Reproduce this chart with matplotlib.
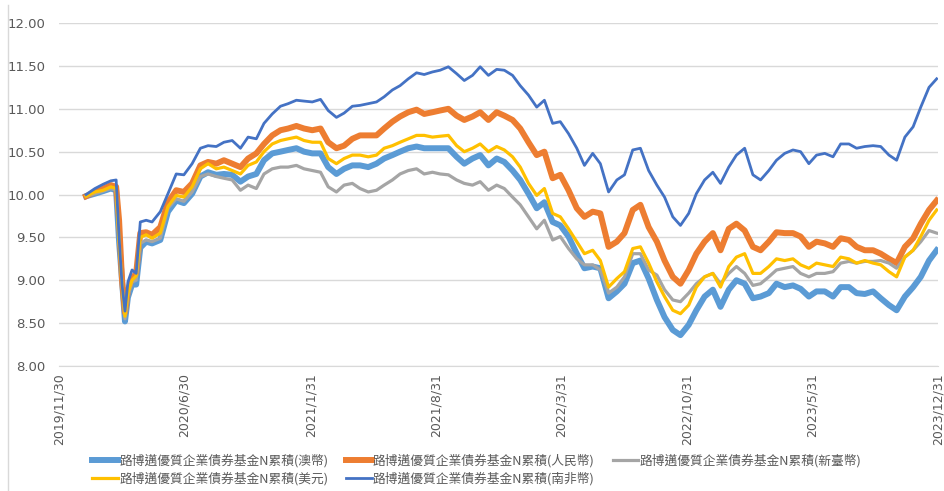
import matplotlib
matplotlib.use('Agg')
import matplotlib.pyplot as plt
from matplotlib.lines import Line2D
import pandas as pd

# sampled NAV dates (roughly every two weeks, denser round the 2020 crash)
dates = [
    '2020-01-15', '2020-01-30', '2020-02-13', '2020-02-26', '2020-03-06', '2020-03-11',
    '2020-03-16', '2020-03-21', '2020-03-26', '2020-04-02', '2020-04-09', '2020-04-16',
    '2020-04-26', '2020-05-06', '2020-05-20', '2020-06-02', '2020-06-16', '2020-06-29',
    '2020-07-13', '2020-07-27', '2020-08-09', '2020-08-23', '2020-09-05', '2020-09-19',
    '2020-10-03', '2020-10-16', '2020-10-30',
    '2020-11-12', '2020-11-26', '2020-12-10', '2020-12-23', '2021-01-06', '2021-01-19',
    '2021-02-02', '2021-02-16', '2021-03-01', '2021-03-15', '2021-03-28', '2021-04-11',
    '2021-04-24', '2021-05-08', '2021-05-22', '2021-06-04', '2021-06-18', '2021-07-01',
    '2021-07-15', '2021-07-29', '2021-08-11',
    '2021-08-25', '2021-09-07', '2021-09-21', '2021-10-05', '2021-10-18', '2021-11-01',
    '2021-11-14', '2021-11-28', '2021-12-12', '2021-12-25', '2022-01-08', '2022-01-21',
    '2022-02-04', '2022-02-18', '2022-03-03', '2022-03-17', '2022-03-30', '2022-04-13',
    '2022-04-27', '2022-05-10', '2022-05-24',
    '2022-06-06', '2022-06-20', '2022-07-04', '2022-07-17', '2022-07-31', '2022-08-13',
    '2022-08-27', '2022-09-10', '2022-09-23', '2022-10-07', '2022-10-20', '2022-11-03',
    '2022-11-16', '2022-11-30', '2022-12-14', '2022-12-27', '2023-01-10', '2023-01-23',
    '2023-02-06', '2023-02-20', '2023-03-05',
    '2023-03-19', '2023-04-01', '2023-04-15', '2023-04-29', '2023-05-12', '2023-05-26',
    '2023-06-08', '2023-06-22', '2023-07-06', '2023-07-19', '2023-08-02', '2023-08-15',
    '2023-08-29', '2023-09-12', '2023-09-25', '2023-10-09', '2023-10-22', '2023-11-05',
    '2023-11-19', '2023-12-02', '2023-12-16', '2023-12-29',
]

aud = [9.98, 10.01, 10.04, 10.07, 10.05, 9.45, 9.00, 8.52, 8.80, 8.95, 8.95, 9.38, 9.45, 9.43,
       9.47, 9.80, 9.93, 9.90, 10.01, 10.21, 10.26, 10.23, 10.24, 10.23, 10.15, 10.21, 10.24,
       10.40, 10.48, 10.50, 10.52, 10.54, 10.50, 10.48, 10.48, 10.32, 10.24, 10.30, 10.34,
       10.34, 10.32, 10.36, 10.42, 10.46, 10.50, 10.54, 10.56, 10.54,
       10.54, 10.54, 10.54, 10.44, 10.36, 10.42, 10.46, 10.34, 10.42, 10.38, 10.28, 10.17,
       10.01, 9.84, 9.91, 9.68, 9.64, 9.51, 9.31, 9.14, 9.16,
       9.14, 8.79, 8.87, 8.96, 9.20, 9.23, 9.02, 8.77, 8.57, 8.42, 8.36, 8.48, 8.65, 8.81,
       8.89, 8.69, 8.89, 9.00, 8.96, 8.79, 8.81,
       8.85, 8.96, 8.92, 8.94, 8.90, 8.81, 8.87, 8.87, 8.81, 8.92, 8.92, 8.85, 8.84, 8.87,
       8.79, 8.71, 8.65, 8.81, 8.92, 9.04, 9.23, 9.35]

cny = [9.98, 10.03, 10.07, 10.11, 10.09, 9.70, 9.00, 8.62, 8.88, 9.02, 9.08, 9.55, 9.56, 9.53,
       9.62, 9.91, 10.05, 10.03, 10.13, 10.34, 10.38, 10.36, 10.40, 10.36, 10.32, 10.42, 10.48,
       10.59, 10.69, 10.75, 10.77, 10.80, 10.77, 10.75, 10.77, 10.61, 10.54, 10.57, 10.65,
       10.69, 10.69, 10.69, 10.77, 10.85, 10.91, 10.96, 10.99, 10.94,
       10.96, 10.98, 11.00, 10.92, 10.87, 10.91, 10.96, 10.87, 10.96, 10.92, 10.87, 10.77,
       10.61, 10.46, 10.50, 10.19, 10.23, 10.05, 9.84, 9.74, 9.80,
       9.78, 9.39, 9.45, 9.55, 9.82, 9.88, 9.62, 9.45, 9.23, 9.04, 8.96, 9.12, 9.31, 9.45,
       9.55, 9.35, 9.60, 9.66, 9.58, 9.39, 9.35,
       9.45, 9.56, 9.55, 9.55, 9.51, 9.39, 9.45, 9.43, 9.39, 9.49, 9.47, 9.39, 9.35, 9.35,
       9.31, 9.25, 9.20, 9.39, 9.49, 9.66, 9.82, 9.93]

twd = [9.98, 10.01, 10.04, 10.07, 10.05, 9.45, 8.95, 8.55, 8.82, 8.98, 9.00, 9.43, 9.47, 9.45,
       9.49, 9.84, 9.95, 9.92, 10.03, 10.21, 10.24, 10.21, 10.19, 10.17, 10.05, 10.11, 10.07,
       10.24, 10.30, 10.32, 10.32, 10.34, 10.30, 10.28, 10.26, 10.09, 10.03, 10.11, 10.13,
       10.07, 10.03, 10.05, 10.11, 10.17, 10.24, 10.28, 10.30, 10.24,
       10.26, 10.24, 10.23, 10.17, 10.13, 10.11, 10.15, 10.05, 10.11, 10.07, 9.97, 9.88,
       9.74, 9.60, 9.70, 9.47, 9.51, 9.37, 9.25, 9.18, 9.18,
       9.12, 8.85, 8.92, 9.04, 9.31, 9.31, 9.12, 9.06, 8.89, 8.77, 8.75, 8.85, 8.96, 9.04,
       9.08, 8.96, 9.08, 9.16, 9.08, 8.94, 8.96,
       9.04, 9.12, 9.14, 9.16, 9.08, 9.04, 9.08, 9.08, 9.10, 9.20, 9.22, 9.20, 9.22, 9.22,
       9.23, 9.20, 9.14, 9.27, 9.35, 9.45, 9.58, 9.55]

usd = [9.98, 10.03, 10.05, 10.09, 10.07, 9.45, 8.95, 8.58, 8.85, 9.00, 9.05, 9.50, 9.53, 9.49,
       9.55, 9.86, 9.99, 9.97, 10.09, 10.30, 10.36, 10.30, 10.32, 10.28, 10.24, 10.34, 10.38,
       10.50, 10.59, 10.63, 10.65, 10.67, 10.63, 10.61, 10.61, 10.42, 10.36, 10.42, 10.46,
       10.46, 10.44, 10.46, 10.54, 10.57, 10.61, 10.65, 10.69, 10.69,
       10.67, 10.68, 10.69, 10.57, 10.50, 10.54, 10.59, 10.50, 10.56, 10.52, 10.44, 10.32,
       10.13, 9.99, 10.07, 9.78, 9.74, 9.60, 9.45, 9.31, 9.35,
       9.23, 8.92, 9.02, 9.10, 9.37, 9.39, 9.20, 8.98, 8.81, 8.65, 8.61, 8.71, 8.92, 9.04,
       9.08, 8.92, 9.16, 9.27, 9.31, 9.08, 9.08,
       9.16, 9.25, 9.23, 9.25, 9.18, 9.14, 9.20, 9.18, 9.16, 9.27, 9.25, 9.20, 9.23, 9.20,
       9.18, 9.10, 9.04, 9.27, 9.35, 9.51, 9.70, 9.82]

zar = [10.00, 10.07, 10.12, 10.16, 10.17, 9.50, 8.95, 8.64, 8.98, 9.12, 9.08, 9.68, 9.70, 9.68,
       9.80, 10.01, 10.24, 10.23, 10.36, 10.54, 10.57, 10.56, 10.61, 10.63, 10.54, 10.67, 10.65,
       10.83, 10.94, 11.03, 11.06, 11.10, 11.09, 11.08, 11.11, 10.98, 10.90, 10.95, 11.03,
       11.04, 11.06, 11.08, 11.14, 11.22, 11.27, 11.35, 11.42, 11.40,
       11.43, 11.45, 11.49, 11.41, 11.33, 11.39, 11.49, 11.39, 11.46, 11.45, 11.39, 11.27,
       11.16, 11.02, 11.10, 10.83, 10.85, 10.71, 10.54, 10.34, 10.48,
       10.36, 10.03, 10.17, 10.23, 10.52, 10.54, 10.28, 10.11, 9.97, 9.74, 9.64, 9.78, 10.01,
       10.17, 10.26, 10.13, 10.32, 10.46, 10.54, 10.23, 10.17,
       10.28, 10.40, 10.48, 10.52, 10.50, 10.36, 10.46, 10.48, 10.44, 10.59, 10.59, 10.54,
       10.56, 10.57, 10.56, 10.46, 10.40, 10.67, 10.79, 11.02, 11.25, 11.35]

names = ['路博邁優質企業債券基金N累積(澳幣)', '路博邁優質企業債券基金N累積(人民幣)',
         '路博邁優質企業債券基金N累積(新臺幣)', '路博邁優質企業債券基金N累積(美元)',
         '路博邁優質企業債券基金N累積(南非幣)']
colors = ['#5B9BD5', '#ED7D31', '#A5A5A5', '#FFC000', '#4472C4']
widths = [4.3, 4.3, 2.3, 2.3, 2.0]

tick_dates = ['2019-11-30', '2020-06-30', '2021-01-31', '2021-08-31',
              '2022-03-31', '2022-10-31', '2023-05-31', '2023-12-31']

df = pd.DataFrame({'date': pd.to_datetime(dates), 'aud': aud, 'cny': cny,
                   'twd': twd, 'usd': usd, 'zar': zar})

fig = plt.figure(figsize=(9.44, 4.91), dpi=100)
ax = fig.add_axes([0.0625, 0.2546, 0.931, 0.6984])

lines = []
for col, name, c, w in zip(['aud', 'cny', 'twd', 'usd', 'zar'], names, colors, widths):
    ln, = ax.plot(df['date'], df[col], color=c, lw=w, label=name, solid_joinstyle='round')
    lines.append(ln)

ax.set_ylim(8, 12)
ax.set_yticks([8 + 0.5 * i for i in range(9)])
ax.yaxis.set_major_formatter(plt.FormatStrFormatter('%.2f'))
ax.yaxis.grid(True, color='#D9D9D9', lw=1)
ax.set_axisbelow(True)

ticks = pd.to_datetime(tick_dates)
ax.set_xlim(ticks[0], ticks[-1])
ax.set_xticks(ticks)
ax.set_xticklabels([f'{d.year}/{d.month}/{d.day}' for d in ticks], rotation=90)

for s in ['top', 'right', 'left']:
    ax.spines[s].set_visible(False)
ax.spines['bottom'].set_color('#D9D9D9')
ax.tick_params(axis='both', length=0, colors='#595959', labelsize=9)
ax.tick_params(axis='y', pad=10, labelsize=9.5)
ax.tick_params(axis='x', pad=5)

# frame line on the left edge of the chart
fig.add_artist(Line2D([8 / 944, 8 / 944], [0, 0.99], color='#D9D9D9', lw=1))

# reorder so the legend fills row by row like Excel
order = [0, 3, 1, 4, 2]
fig.legend([lines[i] for i in order], [names[i] for i in order], ncol=3,
           loc='center', bbox_to_anchor=(0.505, 0.043), frameon=False,
           prop={'family': ['Noto Sans CJK TC', 'DejaVu Sans'], 'size': 9.2},
           labelcolor='#595959', handlelength=2.0, handletextpad=0.1,
           columnspacing=1.4, labelspacing=0.35)

fig.savefig('out.png', dpi=100)
